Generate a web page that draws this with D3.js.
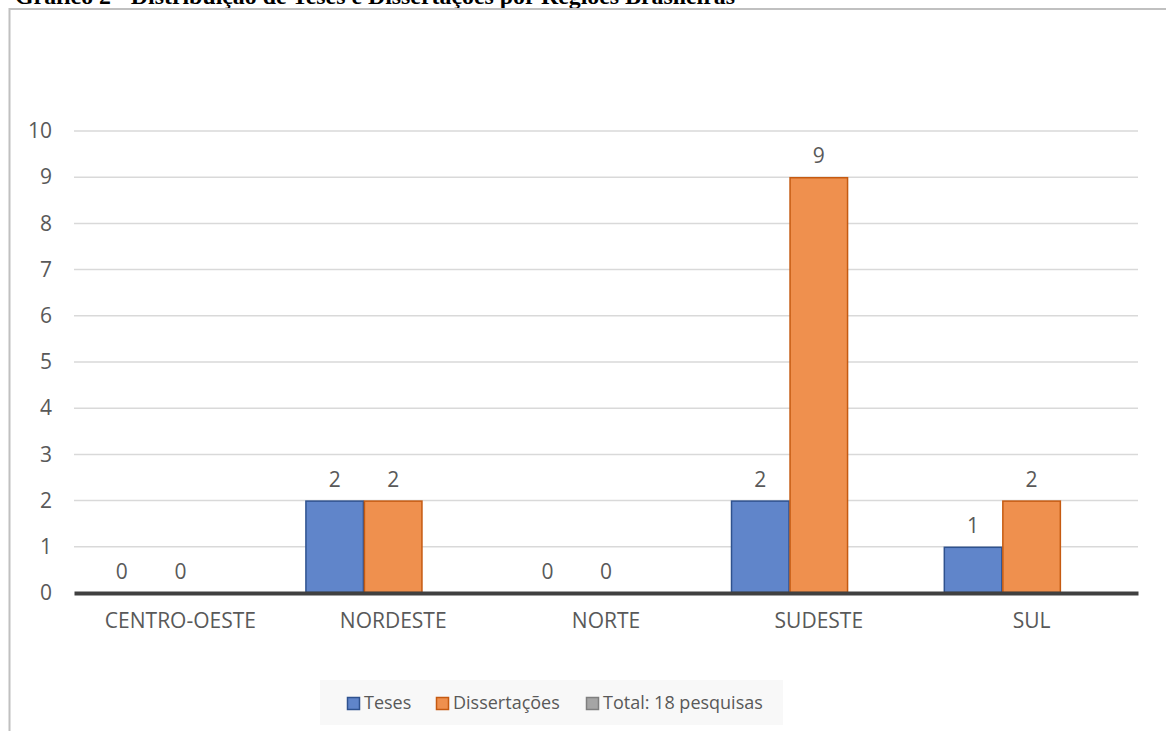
<!DOCTYPE html>
<html>
<head>
<meta charset="utf-8">
<title>Distribuição de Teses e Dissertações</title>
<style>
body { margin: 0; background: #ffffff; }
svg { display: block; }
</style>
</head>
<body>
<svg width="1166" height="731"></svg>
<script src="https://d3js.org/d3.v7.min.js"></script>
<script>
// data
var regioes = ["CENTRO-OESTE", "NORDESTE", "NORTE", "SUDESTE", "SUL"];
var series = ["Teses", "Dissertações", "Total: 18 pesquisas"];
var teses = [0, 2, 0, 2, 1];
var dissertacoes = [0, 2, 0, 9, 2];
var total = [null, null, null, null, null];
var yTicks = [0, 1, 2, 3, 4, 5, 6, 7, 8, 9, 10];

var fills = ["#6085ca", "#ef904e", "#a5a5a5"];
var strokes = ["#2f528f", "#c55a11", "#7f7f7f"];
var txt = "#595959";
var font = "'Open Sans', sans-serif";

var svg = d3.select("svg");

// title, cut off at the top of the picture
svg.append("text")
    .attr("x", 15)
    .attr("y", 3.5)
    .attr("font-family", "'Liberation Serif', serif")
    .attr("font-size", 24)
    .attr("font-weight", "bold")
    .attr("textLength", 720)
    .attr("lengthAdjust", "spacingAndGlyphs")
    .attr("fill", "#000")
    .text("Gráfico 2 - Distribuição de Teses e Dissertações por Regiões Brasileiras");

// chart area frame
svg.append("rect")
    .attr("x", 9.5).attr("y", 9)
    .attr("width", 1200).attr("height", 800)
    .attr("fill", "none")
    .attr("stroke", "#c0c0c0")
    .attr("stroke-width", 2);

var x = d3.scaleBand()
    .domain(regioes)
    .range([74, 1138])
    .paddingInner(0.175)
    .paddingOuter(0.0875);

var xs = d3.scaleBand()
    .domain(series)
    .range([0, x.bandwidth()]);

var y = d3.scaleLinear()
    .domain([0, 10])
    .range([593, 131]);

// gridlines
svg.append("g")
  .selectAll("line")
  .data(yTicks.filter(function(d) { return d > 0; }))
  .enter().append("line")
    .attr("x1", 74).attr("x2", 1138)
    .attr("y1", function(d) { return y(d); })
    .attr("y2", function(d) { return y(d); })
    .attr("stroke", "#d9d9d9")
    .attr("stroke-width", 1.5);

// y axis labels
var yAxis = svg.append("g")
    .attr("transform", "translate(52,0)")
    .call(d3.axisLeft(y).tickValues(yTicks).tickSize(0).tickPadding(0));
yAxis.select(".domain").remove();
yAxis.selectAll("text")
    .attr("font-family", font)
    .attr("font-size", 21)
    .attr("fill", txt);

var rows = regioes.map(function(r, i) {
  return { regiao: r, values: [teses[i], dissertacoes[i], total[i]] };
});

var groups = svg.append("g")
  .selectAll("g")
  .data(rows)
  .enter().append("g")
    .attr("transform", function(d) { return "translate(" + x(d.regiao) + ",0)"; });

groups.selectAll("rect")
  .data(function(d) { return d.values.map(function(v, j) { return { s: series[j], v: v, j: j }; }); })
  .enter().filter(function(d) { return d.v > 0; }).append("rect")
    .attr("x", function(d) { return xs(d.s) + 0.5; })
    .attr("y", function(d) { return y(d.v) + 0.5; })
    .attr("width", xs.bandwidth() - 1)
    .attr("height", function(d) { return y(0) - y(d.v) - 1; })
    .attr("fill", function(d) { return fills[d.j]; })
    .attr("stroke", function(d) { return strokes[d.j]; })
    .attr("stroke-width", 1.5);

// data labels (Teses and Dissertações only)
groups.selectAll("text")
  .data(function(d) { return d.values.map(function(v, j) { return { s: series[j], v: v }; }).filter(function(d) { return d.v !== null; }); })
  .enter().append("text")
    .attr("x", function(d) { return xs(d.s) + xs.bandwidth() / 2; })
    .attr("y", function(d) { return y(d.v) - 14; })
    .attr("text-anchor", "middle")
    .attr("font-family", font)
    .attr("font-size", 21)
    .attr("fill", txt)
    .text(function(d) { return d.v; });

// x axis
var xAxis = svg.append("g")
    .attr("transform", "translate(0,593)")
    .call(d3.axisBottom(x).tickSize(0).tickPadding(20));
xAxis.select(".domain")
    .attr("stroke", "#404040")
    .attr("stroke-width", 4);
xAxis.selectAll("text")
    .attr("font-family", font)
    .attr("font-size", 21)
    .attr("fill", txt);

// legend
var legend = svg.append("g");
legend.append("rect")
    .attr("x", 320).attr("y", 680)
    .attr("width", 463).attr("height", 45)
    .attr("fill", "#f8f8f8");
var legendX = [347, 436, 586];
series.forEach(function(s, j) {
  legend.append("rect")
      .attr("x", legendX[j] + 0.5).attr("y", 697.5)
      .attr("width", 12).attr("height", 12)
      .attr("fill", fills[j])
      .attr("stroke", strokes[j])
      .attr("stroke-width", 1.5);
  legend.append("text")
      .attr("x", legendX[j] + 17)
      .attr("y", 703)
      .attr("dy", "0.35em")
      .attr("font-family", font)
      .attr("font-size", 18)
      .attr("fill", txt)
      .text(s);
});
</script>
</body>
</html>
